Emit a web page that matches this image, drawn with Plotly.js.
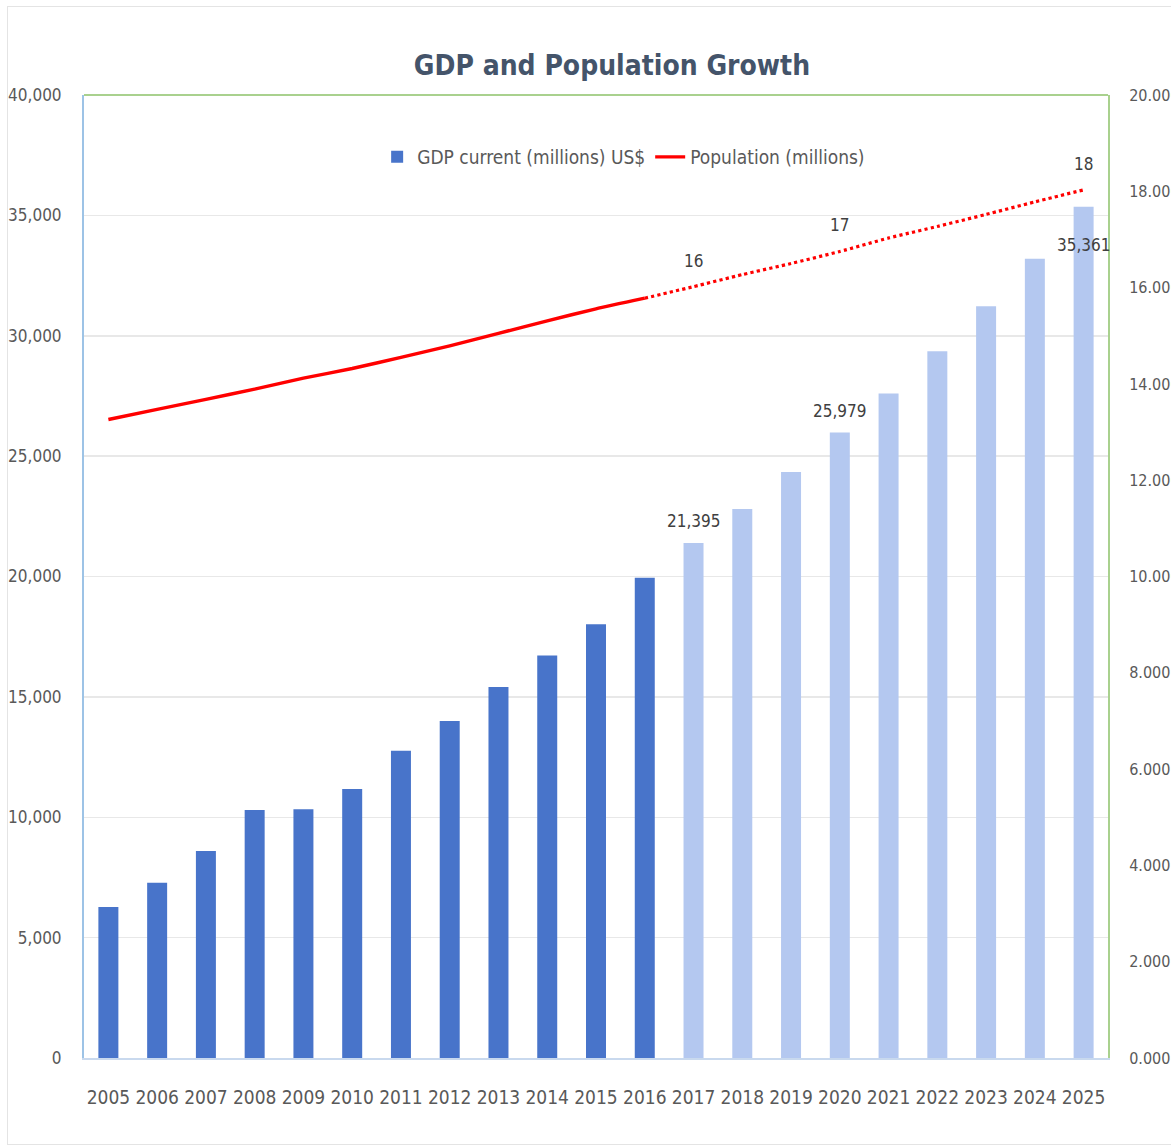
<!DOCTYPE html>
<html>
<head>
<meta charset="utf-8">
<script src="https://cdn.plot.ly/plotly-3.0.1.min.js"></script>
<style>
  html, body { margin: 0; padding: 0; background: #ffffff; overflow: hidden; }
  #chart { position: absolute; left: 0; top: 0; width: 1171px; height: 1145px; }
  #frame { position: absolute; left: 7px; top: 6px; width: 1200px; height: 1137px;
           border: 1.5px solid #e4e4e4; pointer-events: none; }
</style>
</head>
<body>
<div id="chart"></div>
<div id="frame"></div>
<script>
// ---- data ----
const years = ['2005','2006','2007','2008','2009','2010','2011','2012','2013','2014',
               '2015','2016','2017','2018','2019','2020','2021','2022','2023','2024','2025'];
const gdpValues = [6270, 7280, 8600, 10300, 10330, 11170, 12760, 14000, 15410, 16720,
                   18020, 19950, 21395, 22800, 24340, 25979, 27600, 29360, 31230, 33200, 35361];
const populationValues = [13.26, 13.47, 13.68, 13.89, 14.12, 14.32, 14.55, 14.79, 15.05, 15.31,
                          15.56, 15.78, 16.02, 16.27, 16.50, 16.75, 17.03, 17.27, 17.52, 17.78, 18.03];
const lastActualIndex = 11;           // 2016: last actual year, later years projected
const gdpLabelYears = ['2017', '2020', '2025'];
const popLabelYears = ['2017', '2020', '2025'];
const gdpName = 'GDP current (millions) US$';
const popName = 'Population (millions)';
const chartTitle = 'GDP and Population Growth';

// ---- styling ----
const NARROW = '"Liberation Sans Narrow", "DejaVu Sans Condensed", "Lato", sans-serif';
const actualColor = '#4874ca';
const projectedColor = '#b4c8f0';
const textGray = '#595959';

const barColors = years.map((y, i) => i <= lastActualIndex ? actualColor : projectedColor);

const gdpTrace = {
  type: 'bar', name: gdpName, x: years, y: gdpValues,
  marker: { color: barColors, line: { width: 0 } },
  width: 0.41, yaxis: 'y', hoverinfo: 'x+y'
};

const popActual = {
  type: 'scatter', mode: 'lines', name: popName,
  x: years.slice(0, lastActualIndex + 1),
  y: populationValues.slice(0, lastActualIndex + 1),
  line: { color: '#ff0000', width: 3.4, shape: 'spline', smoothing: 0.5 },
  yaxis: 'y2'
};
const popProjected = {
  type: 'scatter', mode: 'lines', name: popName, showlegend: false,
  x: years.slice(lastActualIndex),
  y: populationValues.slice(lastActualIndex),
  line: { color: '#ff0000', width: 3.2, dash: 'dot', shape: 'spline', smoothing: 0.5 },
  yaxis: 'y2'
};

const labelFont = { family: NARROW, size: 17, color: '#404040' };
const annotations = [];
gdpLabelYears.forEach((yr, k) => {
  const i = years.indexOf(yr);
  const inside = (k === gdpLabelYears.length - 1);
  annotations.push({
    x: i, y: gdpValues[i], xref: 'x', yref: 'y',
    text: gdpValues[i].toLocaleString('en-US'),
    showarrow: false, yshift: inside ? -38 : 22, font: labelFont
  });
});
popLabelYears.forEach(yr => {
  const i = years.indexOf(yr);
  annotations.push({
    x: i, y: populationValues[i], xref: 'x', yref: 'y2',
    text: String(Math.round(populationValues[i])),
    showarrow: false, yshift: 26, font: labelFont
  });
});

const layout = {
  width: 1171, height: 1145,
  margin: { l: 84, r: 63, t: 95, b: 87, pad: 0 },
  paper_bgcolor: 'rgba(0,0,0,0)', plot_bgcolor: '#ffffff',
  title: {
    text: '<b>' + chartTitle + '</b>',
    font: { family: NARROW, size: 28, color: '#44546a' },
    x: 0.5156, xref: 'paper', xanchor: 'center',
    y: 1 - 65 / 1145, yref: 'container', yanchor: 'middle'
  },
  showlegend: true,
  legend: {
    orientation: 'h', x: 0.527, xanchor: 'center', y: 0.9356, yanchor: 'middle',
    font: { family: NARROW, size: 19, color: textGray },
    bgcolor: 'rgba(0,0,0,0)', itemwidth: 30, tracegroupgap: 0
  },
  xaxis: {
    type: 'category', range: [-0.5, years.length - 0.5],
    showgrid: false, zeroline: false,
    showline: true, linecolor: '#c9d9ee', linewidth: 1.5,
    ticks: '', ticklabelstandoff: 22,
    tickfont: { family: NARROW, size: 19, color: textGray },
    fixedrange: true
  },
  yaxis: {
    range: [0, 40000], dtick: 5000, tickformat: ',d',
    showgrid: true, gridcolor: '#e8e8e8', gridwidth: 1.5, zeroline: false,
    showline: true, linecolor: '#9dc3e6', linewidth: 2,
    ticks: '', ticklabelstandoff: 17,
    tickfont: { family: NARROW, size: 17, color: textGray },
    fixedrange: true
  },
  yaxis2: {
    overlaying: 'y', side: 'right', range: [0, 20], dtick: 2, tickformat: '.3f',
    showgrid: false, zeroline: false,
    showline: true, linecolor: '#a9d18e', linewidth: 2,
    ticks: '', ticklabelstandoff: 16,
    tickfont: { family: '"DejaVu Sans Condensed", "DejaVu Sans", sans-serif', size: 16, color: textGray },
    fixedrange: true
  },
  shapes: [
    { type: 'line', xref: 'paper', yref: 'paper', x0: 0, x1: 1, y0: 1, y1: 1,
      line: { color: '#a9d18e', width: 2 } }
  ],
  annotations: annotations
};

Plotly.newPlot('chart', [gdpTrace, popActual, popProjected], layout, { displayModeBar: false, staticPlot: true });
</script>
</body>
</html>
